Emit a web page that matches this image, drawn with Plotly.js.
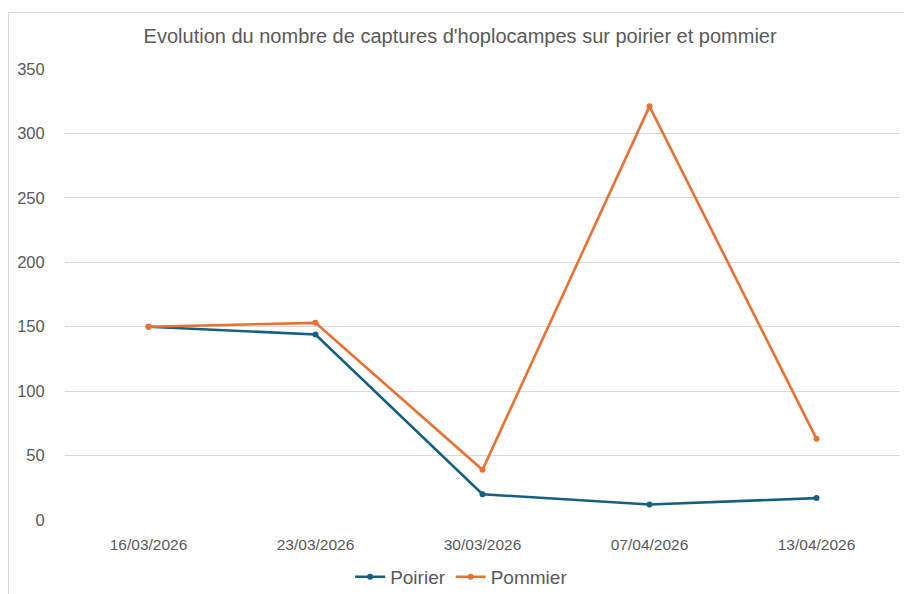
<!DOCTYPE html>
<html>
<head>
<meta charset="utf-8">
<script src="https://cdn.plot.ly/plotly-3.0.1.min.js"></script>
<style>
  html, body { margin: 0; padding: 0; background: #ffffff; }
  #wrap { position: relative; width: 904px; height: 594px; }
  #chart { position: absolute; left: 0; top: 0; width: 904px; height: 594px; }
  #frame { position: absolute; left: 8px; top: 12px; width: 900px; height: 590px;
           border: 1px solid #d9d9d9; pointer-events: none; box-sizing: border-box; }
</style>
</head>
<body>
<div id="wrap">
  <div id="chart"></div>
  <div id="frame"></div>
</div>
<script>
const dates = ["16/03/2026", "23/03/2026", "30/03/2026", "07/04/2026", "13/04/2026"];
const poirier = [150, 144, 20, 12, 17];
const pommier = [150, 153, 39, 321, 63];
const yTicks = [0, 50, 100, 150, 200, 250, 300, 350];

const textColor = "#595959";
const gridColor = "#d9d9d9";

const traces = [
  {
    x: dates, y: poirier, name: "Poirier", type: "scatter", mode: "lines+markers",
    line: { color: "#156082", width: 2.6 },
    marker: { color: "#156082", size: 6 }
  },
  {
    x: dates, y: pommier, name: "Pommier", type: "scatter", mode: "lines+markers",
    line: { color: "#E97132", width: 2.6 },
    marker: { color: "#E97132", size: 6 }
  }
];

const layout = {
  width: 904, height: 594,
  paper_bgcolor: "rgba(0,0,0,0)", plot_bgcolor: "#ffffff",
  margin: { l: 65, r: 4, t: 69, b: 74, autoexpand: false },
  font: { family: "Liberation Sans, Arial, sans-serif", color: textColor },
  title: {
    text: "Evolution du nombre de captures d'hoplocampes sur poirier et pommier",
    font: { family: "Liberation Sans, sans-serif", size: 20, color: textColor },
    xref: "container", yref: "container", x: 0.509, y: 0.939, xanchor: "center", yanchor: "middle"
  },
  xaxis: {
    type: "category", range: [-0.5, 4.5],
    showgrid: false, zeroline: false, showline: false, automargin: false,
    ticks: "outside", ticklen: 10, tickcolor: "rgba(0,0,0,0)",
    tickfont: { size: 15.5, color: textColor }
  },
  yaxis: {
    range: [0, 350], tickvals: yTicks, ticktext: yTicks.map(String),
    showgrid: true, gridcolor: gridColor, gridwidth: 1.2,
    zeroline: false, showline: false, automargin: false,
    ticks: "outside", ticklen: 16, tickcolor: "rgba(0,0,0,0)",
    tickfont: { size: 16.5, color: textColor }
  },
  legend: {
    orientation: "h", x: 0.475, xanchor: "center", y: -0.126, yanchor: "middle",
    font: { size: 19, color: textColor }, bgcolor: "rgba(0,0,0,0)"
  },
  showlegend: true
};

Plotly.newPlot("chart", traces, layout, { displayModeBar: false, staticPlot: true });
</script>
</body>
</html>
